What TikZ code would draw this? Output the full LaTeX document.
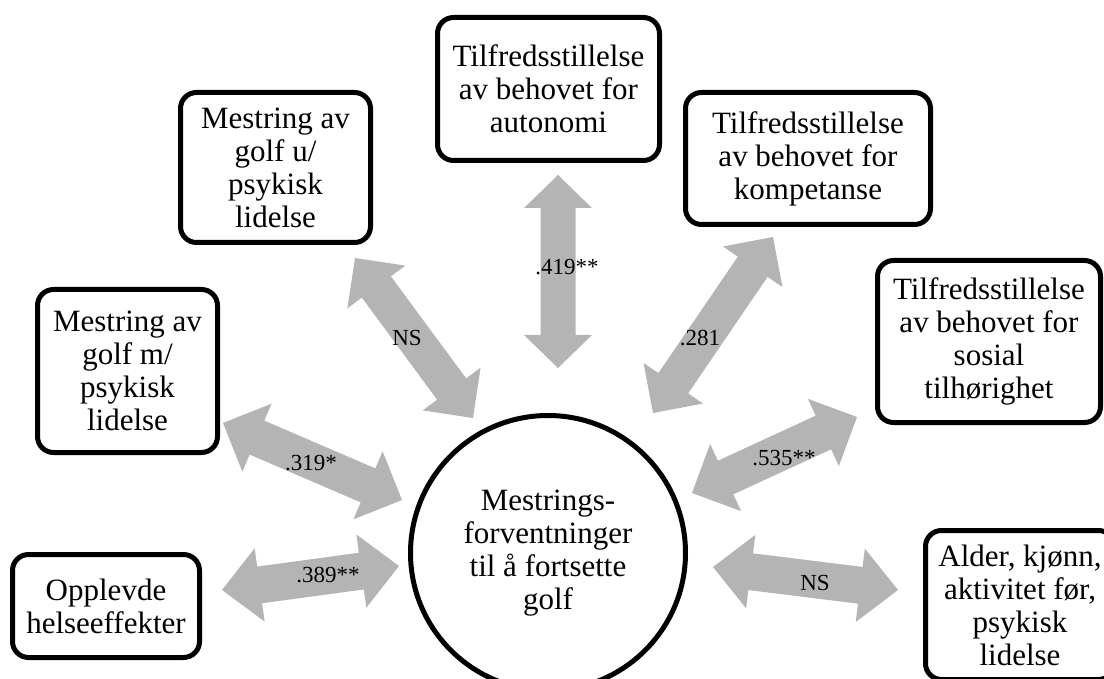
\documentclass[tikz,border=0pt]{standalone}
\usepackage{fontspec}
\setmainfont{Liberation Serif}
\usetikzlibrary{calc}
\definecolor{arrowgray}{RGB}{180,180,180}
% block double arrow between two named coordinates:
% #1,#2 ends; #3 half shaft width; #4 half head width; #5 head length
\newcommand\blockarrow[5]{%
  \coordinate (q1) at ($(#1)!#5!(#2)$);
  \coordinate (q2) at ($(#2)!#5!(#1)$);
  \fill[arrowfill] (#1) -- ($(q1)!#4!90:(#2)$) -- ($(q1)!#3!90:(#2)$)
    -- ($(q2)!#3!-90:(#1)$) -- ($(q2)!#4!-90:(#1)$) -- (#2)
    -- ($(q2)!#4!90:(#1)$) -- ($(q2)!#3!90:(#1)$)
    -- ($(q1)!#3!-90:(#2)$) -- ($(q1)!#4!-90:(#2)$) -- cycle;}
\begin{document}
\begin{tikzpicture}[x=1pt,y=-1pt,
  box/.style={draw, line width=5pt, rounded corners=16pt, align=center,
    font=\fontsize{31}{33}\selectfont, inner sep=0pt, fill=white},
  hub/.style={draw, circle, line width=5pt, align=center, inner sep=0pt,
    font=\fontsize{31}{33}\selectfont, minimum size=275pt},
  arrowfill/.style={fill=arrowgray},
  lbl/.style={font=\fontsize{23}{25}\selectfont, inner sep=0pt}]
\useasboundingbox (0,0) rectangle (1104,679);

% arrow end points
\coordinate (a1) at (558,175);  \coordinate (a2) at (558,368);
\coordinate (b1) at (355,258);  \coordinate (b2) at (473,418);
\coordinate (c1) at (773,237);  \coordinate (c2) at (653,413);
\coordinate (d1) at (223,423);  \coordinate (d2) at (402,500);
\coordinate (e1) at (857,417);  \coordinate (e2) at (692,493);
\coordinate (f1) at (222,590);  \coordinate (f2) at (399,566);
\coordinate (g1) at (713,567);  \coordinate (g2) at (898,590);

\blockarrow{a1}{a2}{17.5pt}{34pt}{33pt}
\blockarrow{b1}{b2}{18pt}{36pt}{36pt}
\blockarrow{c1}{c2}{18pt}{36pt}{36pt}
\blockarrow{d1}{d2}{18.5pt}{37pt}{37pt}
\blockarrow{e1}{e2}{18.5pt}{37pt}{37pt}
\blockarrow{f1}{f2}{18.5pt}{37pt}{38pt}
\blockarrow{g1}{g2}{18.5pt}{37pt}{38pt}

\node[lbl] (l1) at (567,267) {.419**};
\node[lbl] (l2) at (407,338) {NS};
\node[lbl] (l3) at (700,338) {.281};
\node[lbl] (l4) at (311,463) {.319*};
\node[lbl] (l5) at (784,458) {.535**};
\node[lbl] (l6) at (328,575) {.389**};
\node[lbl] (l7) at (815,583) {NS};

\node[hub] (hub) at (548,553) {Mestrings-\\forventninger\\til å fortsette\\golf};

\node[box, minimum width=222pt, minimum height=143pt] (aut) at (548.5,89)
  {Tilfredsstillelse\\av behovet for\\autonomi};
\node[box, minimum width=190pt, minimum height=150pt] (ku) at (275.5,167.5)
  {Mestring av\\golf u/\\psykisk\\lidelse};
\node[box, minimum width=245pt, minimum height=132pt] (komp) at (808,158.5)
  {Tilfredsstillelse\\av behovet for\\kompetanse};
\node[box, minimum width=180pt, minimum height=163pt] (km) at (127.5,371)
  {Mestring av\\golf m/\\psykisk\\lidelse};
\node[box, minimum width=223pt, minimum height=162pt] (sos) at (989,341.5)
  {Tilfredsstillelse\\av behovet for\\sosial\\tilhørighet};
\node[box, minimum width=187pt, minimum height=103pt] (opp) at (106,606)
  {Opplevde\\helseeffekter};
\node[box, minimum width=189pt, minimum height=149pt] (alder) at (1020,605)
  {Alder, kjønn,\\aktivitet før,\\psykisk\\lidelse};
\end{tikzpicture}
\end{document}
